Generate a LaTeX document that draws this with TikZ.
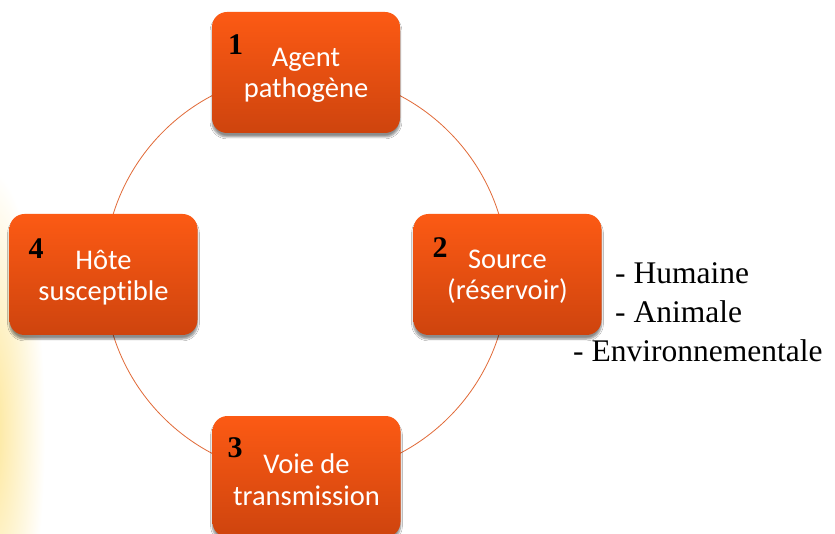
\documentclass[tikz,border=0pt]{standalone}
\usepackage{fontspec}
\setmainfont{Liberation Serif}
\newfontfamily\boxfont[Ligatures=NoCommon]{Carlito}
\usetikzlibrary{shadows.blur}
\definecolor{boxtop}{RGB}{252,90,20}
\definecolor{boxbot}{RGB}{206,68,14}
\definecolor{ringcol}{RGB}{225,105,55}
\definecolor{glow}{RGB}{253,230,150}
\tikzset{
  stagebox/.style={rounded corners=15pt, minimum width=188pt, minimum height=121pt,
    top color=boxtop, bottom color=boxbot, draw=none,
    blur shadow={shadow xshift=0pt, shadow yshift=-4pt, shadow blur steps=6, shadow opacity=45},
    inner sep=0pt},
  boxtext/.style={text=white, align=center, font=\boxfont\fontsize{28.5}{31.5}\selectfont, inner sep=0pt},
  numlabel/.style={anchor=base west, inner sep=0pt, text=black, font=\bfseries\fontsize{30}{30}\selectfont},
  listitem/.style={anchor=base west, inner sep=0pt, text=black, font=\fontsize{31.5}{31.5}\selectfont},
  ring/.style={draw=ringcol, line width=0.8pt}
}
\begin{document}
\begin{tikzpicture}[x=1pt,y=-1pt]
\useasboundingbox (0,0) rectangle (835,534);
\fill[white] (0,0) rectangle (835,534);
\shade[inner color=glow, outer color=white] (-10,430) ellipse (55 and 260);
\coordinate (center) at (306,274.5);
\draw[ring] (center) circle (202);
\node[stagebox] (b1) at (306,72.5) {};
\node[stagebox] (b2) at (507.5,274.5) {};
\node[stagebox] (b4) at (103.5,274.5) {};
\node[stagebox] (b3) at (306.5,476.5) {};
\node[boxtext] (t1) at ([yshift=-3pt]b1.center) {Agent\\pathogène};
\node[boxtext] (t2) at ([yshift=-2pt]b2.center) {Source\\(réservoir)};
\node[boxtext] (t4) at ([yshift=-3pt]b4.center) {Hôte\\susceptible};
\node[boxtext] (t3) at ([yshift=-3pt]b3.center) {Voie de\\transmission};
\node[numlabel] (n1) at ([xshift=16pt,yshift=-43pt]b1.north west) {1};
\node[numlabel] (n2) at ([xshift=19pt,yshift=-44pt]b2.north west) {2};
\node[numlabel] (n4) at ([xshift=19pt,yshift=-45pt]b4.north west) {4};
\node[numlabel] (n3) at ([xshift=15pt,yshift=-42pt]b3.north west) {3};
\node[listitem] (l1) at (615,284) {- Humaine};
\node[listitem] (l2) at (615,323) {- Animale};
\node[listitem] (l3) at (573,362) {- Environnementale};
\end{tikzpicture}
\end{document}
